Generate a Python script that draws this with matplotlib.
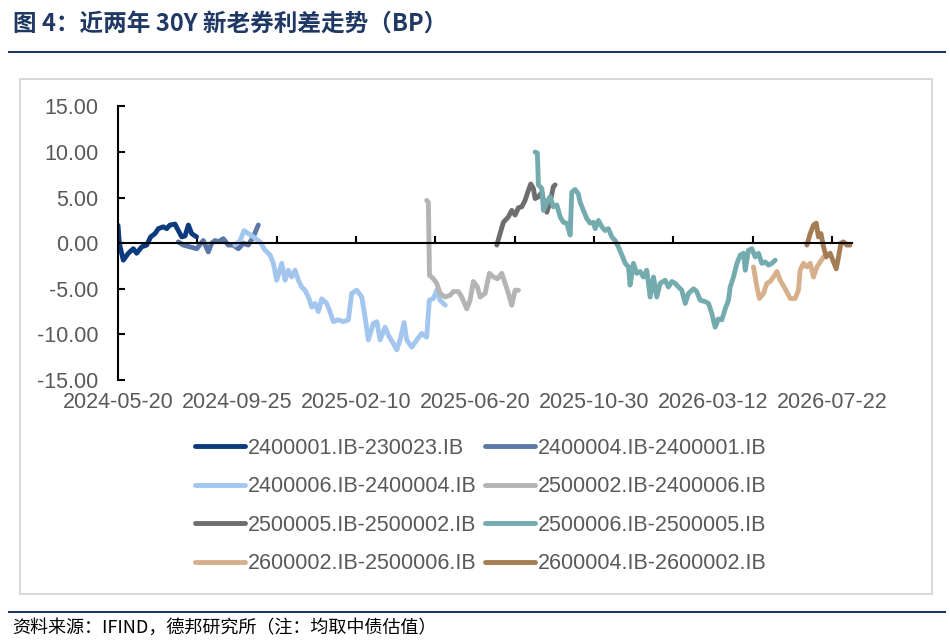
import matplotlib.pyplot as plt
from matplotlib.patches import Rectangle
from matplotlib.lines import Line2D

# x = trading-day index from 2024-05-20, y = spread in BP
s1_x = [0, 1, 4, 7.8, 11.6, 14.1, 17.9, 21.7, 24.7, 28, 30.5, 34.3, 36.8, 39.3, 43.1, 45.6, 48.2, 50.7, 53.2, 55.7, 59.4]
s1_y = [1.97, 0, -1.86, -1.1, -0.6, -1.1, -0.4, -0.2, 0.7, 1.06, 1.6, 1.8, 1.6, 2.0, 2.1, 1.4, 0.7, 0.8, 2.0, 1.06, 0.7]

s2_x = [45.6, 49.4, 54.5, 59.5, 64.5, 68.3, 70.8, 73.4, 75.9, 79.6, 83.4, 87.2, 91, 94.8, 98.5, 102.3, 106.1]
s2_y = [0.15, -0.2, -0.4, -0.6, 0.3, -0.95, 0, 0.3, 0.15, 0.5, -0.2, -0.2, -0.6, 0, -0.2, 0.7, 2.0]

s3_x = [88.5, 92.3, 95.3, 98.5, 102.3, 107.4, 111.2, 115, 117.5, 120, 123.8, 126.3, 128.8, 131.3, 133.9,
        136.4, 138.9, 141.4, 144, 146.5, 149, 151.5, 154, 157.8, 160.3, 162.8, 166.6, 170.4, 174.2, 176.7,
        180.5, 184.3, 186.8, 189.3, 193.1, 195.7, 198.2, 202, 204.5, 208.2, 210.8, 213.3, 216.3, 218.3,
        222.1, 225.9, 229.7, 233.4, 235.4, 238.5, 241, 243.5, 246, 247.5]
s3_y = [-0.2, 0.3, 1.4, 1.06, 0.7, 0.15, -0.77, -1.3, -2.2, -4.06, -2.2, -4.06, -2.96, -3.7, -2.96,
        -4.06, -4.8, -5.15, -5.9, -7.0, -6.6, -7.5, -6.1, -6.6, -7.5, -8.6, -8.4, -8.6, -8.4, -5.5,
        -5.15, -5.9, -8.1, -10.6, -8.8, -8.6, -10.6, -9.2, -10.1, -11.0, -11.7, -10.6, -8.7, -10.6,
        -11.4, -10.6, -9.9, -10.3, -6.25, -6.06, -5.15, -6.25, -6.6, -6.8]

s4_x = [233.4, 234.7, 235.5, 238.5, 241, 243.5, 247.3, 251.1, 253.6, 257.4, 259.9, 263.7, 266.2, 268.7,
        271.8, 273.8, 277.6, 280.8, 283.9, 286.9, 290.2, 292.7, 295.2, 297.7, 300.3, 302.8]
s4_y = [4.7, 4.5, -3.5, -3.9, -4.4, -5.5, -5.9, -5.7, -5.3, -5.3, -5.9, -7.2, -6.25, -4.2,
        -4.8, -5.9, -5.5, -3.3, -3.7, -3.9, -3.3, -4.4, -5.5, -6.8, -5.15, -5.15]

s5_x = [286.4, 288.9, 291.4, 295.2, 297.7, 300.3, 302.8, 305.3, 307.8, 310.3, 312.1, 314.1, 315.4,
        317.9, 320.5, 322.2, 324.3, 326.7, 329.2, 330.5]
s5_y = [-0.2, 1.06, 2.3, 2.9, 3.6, 3.1, 3.9, 4.0, 4.7, 5.8, 6.5, 6.0, 4.9,
        5.1, 5.6, 4.35, 3.4, 4.5, 6.2, 6.4]

s6_x = [315.4, 317.1, 317.9, 320.5, 321.7, 324.3, 326.7, 329.2, 331.8, 334.3, 336.8, 339.3, 341.9,
        343.1, 345.6, 348.1, 349.4, 351.9, 354.5, 357, 359.5, 360.8, 363.3, 365.9, 368.3, 370.8,
        373.4, 375.9, 378.4, 381, 383.5, 386, 387.2, 389.7, 392.2, 394.8, 397.3, 399.8, 402.4,
        404.9, 407.4, 409.9, 413.7, 416.2, 418.8, 421.3, 423.8, 426.3, 428.9, 431.4, 435.2, 437.6,
        440.2, 444, 446.5, 449, 451.5, 454, 456.6, 459.1, 461.6, 462.9, 465.4, 468, 470.5, 473,
        474.3, 476.7, 479.3, 481.8, 484.3, 486.8, 489.3, 491.9, 494.4, 496.9]
s6_y = [10.0, 9.9, 6.4, 6.0, 3.6, 4.5, 5.1, 4.0, 4.2, 2.9, 2.3, 2.2, 0.9,
        5.6, 5.9, 5.4, 4.5, 3.6, 2.7, 2.2, 2.3, 1.6, 2.5, 1.8, 1.4, 1.6,
        0.7, 0.3, -0.4, -1.3, -2.2, -2.6, -4.6, -2.2, -3.3, -3.1, -3.7, -2.96, -5.9,
        -3.7, -5.9, -4.4, -4.06, -4.8, -4.2, -4.4, -4.8, -5.15, -6.6, -5.5, -5.0, -5.3,
        -6.25, -6.4, -6.6, -7.7, -9.2, -8.3, -8.4, -7.2, -6.25, -4.8, -3.7, -2.2, -1.3, -1.1,
        -2.96, -0.77, -0.6, -1.5, -1.1, -2.2, -2.05, -2.4, -2.2, -1.86]

s7_x = [480.5, 483.1, 485, 488.1, 490.6, 493.1, 495.6, 498.2, 500.7, 504.5, 508.3, 512, 514.5,
        515.8, 518.3, 520.9, 523.4, 525.9, 528.5, 531, 533.5]
s7_y = [-2.6, -4.8, -6.06, -5.5, -4.4, -4.2, -3.7, -3.1, -4.06, -5.0, -6.06, -6.06, -5.15,
        -2.96, -2.2, -2.6, -2.2, -3.7, -2.6, -2.05, -1.5]

s8_x = [520.9, 523.4, 525.9, 528, 529.6, 531.5, 533.5, 535.5, 538.5, 541, 543.1, 544.8, 546.6,
        548.6, 551.1, 553.6]
s8_y = [-0.2, 1.06, 2.0, 2.2, 0.7, 1.06, -0.4, -1.5, -1.1, -2.05, -2.8, -1.5, 0, 0.15, -0.2, -0.2]

names = ['2400001.IB-230023.IB', '2400004.IB-2400001.IB', '2400006.IB-2400004.IB',
         '2500002.IB-2400006.IB', '2500005.IB-2500002.IB', '2500006.IB-2500005.IB',
         '2600002.IB-2500006.IB', '2600004.IB-2600002.IB']
colors = ['#0B3A7E', '#5B77A8', '#A3C6EF', '#B4B4B4', '#6E6E6E', '#74ABAE', '#D6B08A', '#A57D55']

date_ticks = [0, 90, 180, 270, 360, 450, 540]
date_labels = ['2024-05-20', '2024-09-25', '2025-02-10', '2025-06-20', '2025-10-30', '2026-03-12', '2026-07-22']
minor_ticks = [60, 120, 180, 240, 300, 360, 420, 480, 540]
y_ticks = [-15, -10, -5, 0, 5, 10, 15]

navy = '#1F3864'
grey_txt = '#595959'


def main():
    fig = plt.figure(figsize=(9.5, 6.42), dpi=100)
    W, H = 950, 642

    # outer chart frame
    fig.patches.append(Rectangle((20 / W, 1 - 594 / H), 912 / W, 515 / H, transform=fig.transFigure,
                                 fill=False, edgecolor='#D9D9D9', linewidth=1.5))
    # title and footer rules
    fig.add_artist(Line2D([9 / W, 945 / W], [1 - 52 / H, 1 - 52 / H], color=navy, lw=1.5))
    fig.add_artist(Line2D([9 / W, 945 / W], [1 - 612 / H, 1 - 612 / H], color=navy, lw=1.5))
    fig.text(13 / W, 1 - 24 / H, '图 4：近两年 30Y 新老券利差走势（BP）', family=['Noto Sans CJK SC', 'DejaVu Sans'],
             fontsize=17, fontweight='bold', color=navy, va='center', ha='left')
    fig.text(12 / W, 1 - 628 / H, '资料来源：IFIND，德邦研究所（注：均取中债估值）',
             family=['Noto Sans CJK SC', 'DejaVu Sans'], fontsize=13, color='black', va='center', ha='left')

    ax = fig.add_axes([118 / W, 1 - 380 / H, 734 / W, 273.5 / H])
    series_x = [s1_x, s2_x, s3_x, s4_x, s5_x, s6_x, s7_x, s8_x]
    series_y = [s1_y, s2_y, s3_y, s4_y, s5_y, s6_y, s7_y, s8_y]
    handles = []
    for i in range(8):
        h, = ax.plot(series_x[i], series_y[i], color=colors[i], lw=3.5, label=names[i],
                     solid_capstyle='round', solid_joinstyle='round')
        handles.append(h)

    ax.set_xlim(0, 555)
    ax.set_ylim(-15, 15)
    ax.set_yticks(y_ticks)
    ax.set_yticklabels(['{0:.2f}'.format(v) for v in y_ticks])
    ax.tick_params(axis='y', direction='in', length=5, width=1.5, pad=14, labelsize=15.5,
                   labelcolor=grey_txt, color='black')
    for lab in ax.get_yticklabels():
        lab.set_family('Liberation Sans')

    for s in ['top', 'right']:
        ax.spines[s].set_visible(False)
    ax.spines['left'].set_linewidth(1.5)
    ax.spines['bottom'].set_position(('data', 0))
    ax.spines['bottom'].set_linewidth(1.5)
    ax.set_xticks(minor_ticks)
    ax.tick_params(axis='x', direction='in', length=5, width=1.5, labelbottom=False)

    sec = ax.secondary_xaxis(location=0.0)
    sec.spines['bottom'].set_visible(False)
    sec.set_xticks(date_ticks)
    sec.set_xticklabels(date_labels)
    sec.tick_params(axis='x', length=0, pad=9, labelsize=15.5, labelcolor=grey_txt)
    for lab in sec.get_xticklabels():
        lab.set_family('Liberation Sans')

    order = [0, 2, 4, 6, 1, 3, 5, 7]
    leg = fig.legend([handles[k] for k in order], [names[k] for k in order], loc='center',
                     bbox_to_anchor=(481 / W, 1 - 506 / H), ncol=2, frameon=False,
                     prop={'family': 'Liberation Sans', 'size': 15.5}, handlelength=2.3,
                     handletextpad=0.15, columnspacing=0.4, labelspacing=0.81, borderpad=0)
    for t in leg.get_texts():
        t.set_color(grey_txt)

    fig.savefig('out.png', dpi=100)


if __name__ == '__main__':
    main()
